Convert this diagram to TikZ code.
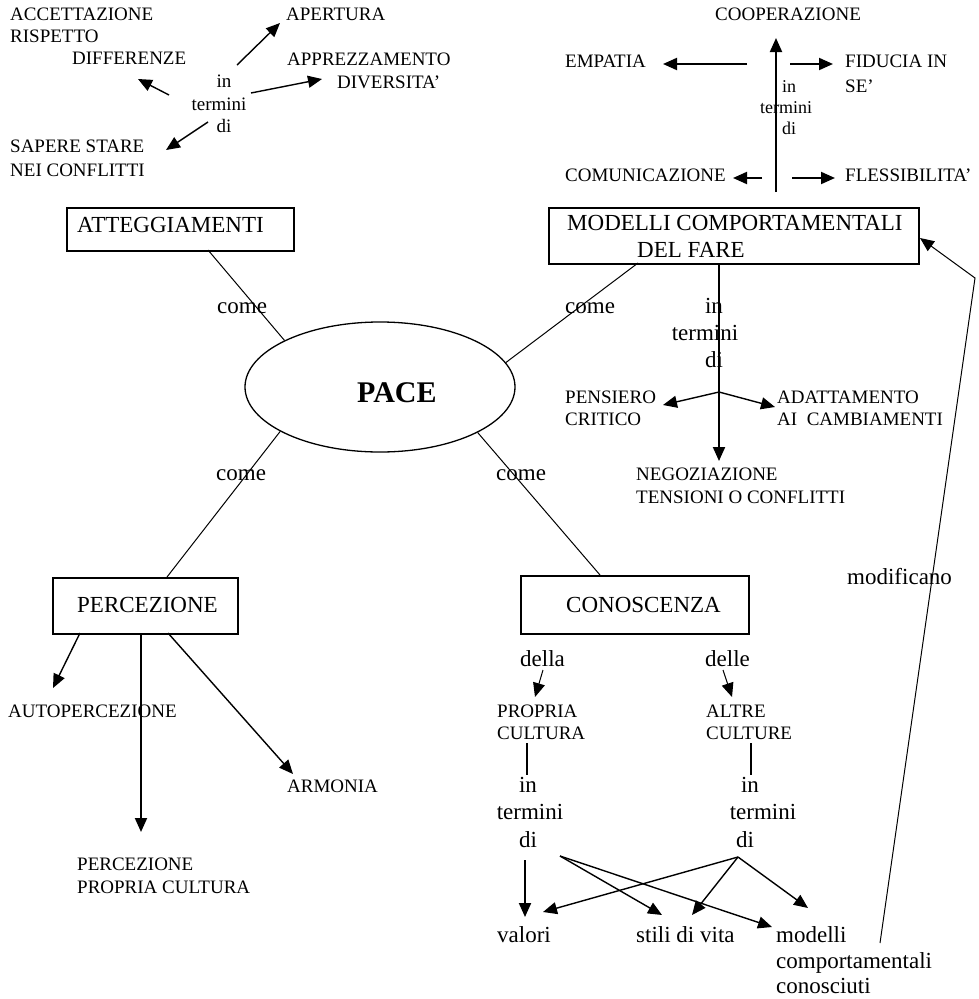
\documentclass[tikz,border=0pt]{standalone}
\usepackage{fontspec}
\setmainfont{Liberation Serif}
\usetikzlibrary{arrows.meta,shapes.geometric}
\tikzset{
  sm/.style={font=\fontsize{19}{22}\selectfont, inner sep=0pt, anchor=base west},
  smc/.style={font=\fontsize{19}{22}\selectfont, inner sep=0pt, anchor=base},
  tiny/.style={font=\fontsize{18}{21}\selectfont, inner sep=0pt, anchor=base},
  bg/.style={font=\fontsize{23}{27}\selectfont, inner sep=0pt, anchor=base west},
  bgc/.style={font=\fontsize{23}{27}\selectfont, inner sep=0pt, anchor=base},
  frame/.style={draw, line width=1.8pt, inner sep=0pt, anchor=north west},
  tip/.style={-{Triangle[length=14pt,width=12pt]}},
  arr/.style={tip, line width=1.4pt},
  thickarr/.style={tip, line width=2pt},
  conn/.style={line width=1pt},
}
\begin{document}
\begin{tikzpicture}[x=1pt,y=-1pt]
\useasboundingbox[fill=white] (0,0) rectangle (979,999);

% ---------- top left: ATTEGGIAMENTI sub-map
\node[sm] (acc) at (10,20) {ACCETTAZIONE};
\node[sm] (ris) at (10,42) {RISPETTO};
\node[sm] (dif) at (72,64) {DIFFERENZE};
\node[sm] (ape) at (286,20) {APERTURA};
\node[sm] (app) at (287,65) {APPREZZAMENTO};
\node[sm] (div) at (337,88) {DIVERSITA’};
\node[smc] (tlin) at (224,87) {in};
\node[smc] (tlter) at (219,110) {termini};
\node[smc] (tldi) at (224,132) {di};
\node[sm] (sap) at (10,152) {SAPERE STARE};
\node[sm] (nei) at (10,176) {NEI CONFLITTI};
\coordinate (tl1) at (237,65);  \coordinate (tl1e) at (280,23);
\coordinate (tl2) at (169,95);  \coordinate (tl2e) at (138,79);
\coordinate (tl3) at (251,93);  \coordinate (tl3e) at (322,79);
\coordinate (tl4) at (208,122); \coordinate (tl4e) at (166,150);
\draw[arr] (tl1) -- (tl1e);
\draw[arr] (tl2) -- (tl2e);
\draw[arr] (tl3) -- (tl3e);
\draw[arr] (tl4) -- (tl4e);

\node[frame, minimum width=227pt, minimum height=43pt] (att) at (66,207) {};
\node[bg] (attT) at (77,232) {ATTEGGIAMENTI};

% ---------- top right: MODELLI sub-map
\node[sm] (coo) at (715,20) {COOPERAZIONE};
\node[sm] (emp) at (565,67) {EMPATIA};
\node[sm] (fid) at (845,67) {FIDUCIA IN};
\node[sm] (se) at (845,92) {SE’};
\node[tiny] (trin) at (789,92) {in};
\node[tiny] (trter) at (786,113) {termini};
\node[tiny] (trdi) at (789,134) {di};
\node[sm] (com) at (565,181) {COMUNICAZIONE};
\node[sm] (fle) at (845,181) {FLESSIBILITA’};
\coordinate (up0) at (776,192); \coordinate (up1) at (776,38);
\coordinate (em0) at (747,64);  \coordinate (em1) at (663,64);
\coordinate (fi0) at (790,64);  \coordinate (fi1) at (833,64);
\coordinate (co0) at (762,178); \coordinate (co1) at (733,178);
\coordinate (fl0) at (792,178); \coordinate (fl1) at (835,178);
\draw[thickarr] (up0) -- (up1);
\draw[thickarr] (em0) -- (em1);
\draw[thickarr] (fi0) -- (fi1);
\draw[thickarr] (co0) -- (co1);
\draw[thickarr] (fl0) -- (fl1);

\node[frame, minimum width=370pt, minimum height=56pt] (mod) at (548,207) {};
\node[bg] (modT1) at (567,230) {MODELLI COMPORTAMENTALI};
\node[bg] (modT2) at (637,257) {DEL FARE};

\node[bg] (come2) at (565,313) {come};
\node[bgc] (mrin) at (714,313) {in};
\node[bgc] (mrter) at (705,340) {termini};
\node[bgc] (mrdi) at (714,367) {di};
\coordinate (mdown0) at (719,263); \coordinate (mdown1) at (719,461);
\coordinate (br) at (719,392);
\coordinate (brL) at (663,405); \coordinate (brR) at (775,407);
\draw[thickarr] (mdown0) -- (mdown1);
\draw[arr] (br) -- (brL);
\draw[arr] (br) -- (brR);
\node[sm] (pen) at (565,403) {PENSIERO};
\node[sm] (cri) at (565,425) {CRITICO};
\node[sm] (ada) at (777,403) {ADATTAMENTO};
\node[sm] (aic) at (777,425) {AI~ CAMBIAMENTI};
\node[sm] (neg) at (636,480) {NEGOZIAZIONE};
\node[sm] (ten) at (636,503) {TENSIONI O CONFLITTI};

% ---------- centre
\node[draw, ellipse, line width=1.3pt, minimum width=270pt, minimum height=130pt] (pace) at (380,387) {};
\node[font=\fontsize{30}{34}\selectfont\bfseries, inner sep=0pt, anchor=base west] (paceT) at (357,402) {PACE};
\node[bg] (come1) at (217,313) {come};
\node[bg] (come3) at (216,480) {come};
\node[bg] (come4) at (496,480) {come};

\coordinate (attB) at (208,250);
\coordinate (modB) at (638,263);
\coordinate (perT) at (167,577);
\coordinate (conT) at (600,575);
\draw[conn] (attB) -- (pace.154);
\draw[conn] (pace.11) -- (modB);
\draw[conn] (pace.204) -- (perT);
\draw[conn] (pace.335) -- (conT);

% ---------- bottom left: PERCEZIONE
\node[frame, minimum width=185pt, minimum height=56pt] (per) at (52,577) {};
\node[bg] (perTx) at (77,612) {PERCEZIONE};
\coordinate (p1) at (80,633);  \coordinate (p1e) at (53,688);
\coordinate (p2) at (141,633); \coordinate (p2e) at (141,832);
\coordinate (p3) at (168,633); \coordinate (p3e) at (293,774);
\draw[arr] (p1) -- (p1e);
\draw[thickarr] (p2) -- (p2e);
\draw[arr] (p3) -- (p3e);
\node[sm] (aut) at (8,717) {AUTOPERCEZIONE};
\node[sm] (arm) at (287,792) {ARMONIA};
\node[sm] (ppc1) at (77,870) {PERCEZIONE};
\node[sm] (ppc2) at (77,893) {PROPRIA CULTURA};

% ---------- bottom right: CONOSCENZA
\node[frame, minimum width=228pt, minimum height=58pt] (con) at (520,575) {};
\node[bg] (conTx) at (566,612) {CONOSCENZA};
\node[bg] (della) at (520,666) {della};
\node[bg] (delle) at (705,666) {delle};
\coordinate (da0) at (543,670); \coordinate (da1) at (535,697);
\coordinate (de0) at (723,670); \coordinate (de1) at (732,697);
\draw[arr, line width=1pt] (da0) -- (da1);
\draw[arr, line width=1pt] (de0) -- (de1);
\node[sm] (pro1) at (497,717) {PROPRIA};
\node[sm] (pro2) at (497,739) {CULTURA};
\node[sm] (alt1) at (706,717) {ALTRE};
\node[sm] (alt2) at (706,739) {CULTURE};
\coordinate (lv0) at (527,743); \coordinate (lv1) at (527,775);
\coordinate (rv0) at (751,743); \coordinate (rv1) at (751,775);
\draw[line width=1.6pt] (lv0) -- (lv1);
\draw[line width=1.6pt] (rv0) -- (rv1);
\node[bgc] (lin) at (528,792) {in};
\node[bgc] (lter) at (530,819) {termini};
\node[bgc] (ldi) at (528,847) {di};
\node[bgc] (rin) at (750,792) {in};
\node[bgc] (rter) at (763,819) {termini};
\node[bgc] (rdi) at (745,847) {di};

\node[bg] (val) at (497,942) {valori};
\node[bg] (sti) at (636,942) {stili di vita};
\node[bg] (mc1) at (776,942) {modelli};
\node[bg] (mc2) at (776,968) {comportamentali};
\node[bg] (mc3) at (776,993) {conosciuti};

\coordinate (lA) at (525,860);
\coordinate (lB) at (560,856);
\coordinate (rA) at (738,857);
\coordinate (valT) at (525,917);
\coordinate (valR) at (543,912);
\coordinate (stiL) at (662,915);
\coordinate (stiR) at (692,915);
\coordinate (mcL) at (772,927);
\coordinate (mcR) at (808,908);
\draw[thickarr] (lA) -- (valT);
\draw[arr] (lB) -- (stiL);
\draw[arr] (lB) -- (mcL);
\draw[arr] (rA) -- (valR);
\draw[arr] (rA) -- (stiR);
\draw[arr] (rA) -- (mcR);

% ---------- modificano
\node[bg] (modif) at (847,584) {modificano};
\coordinate (mf0) at (880,943);
\coordinate (mf1) at (975,278);
\coordinate (mf2) at (920,238);
\draw[tip, line width=1pt] (mf0) -- (mf1) -- (mf2);
\end{tikzpicture}
\end{document}
